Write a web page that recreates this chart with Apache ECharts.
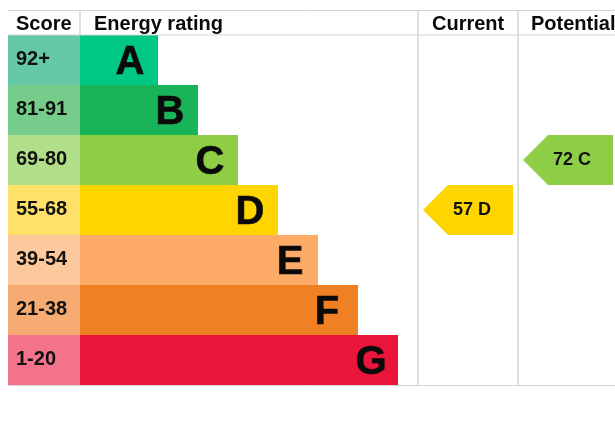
<!DOCTYPE html>
<html><head><meta charset="utf-8">
<style>html,body{margin:0;padding:0;background:#fff}#c{width:615px;height:428px}</style>
<script src="https://cdn.jsdelivr.net/npm/echarts@6/dist/echarts.min.js"></script>
</head><body><div id="c"></div>
<script>
const bands = ['A','B','C','D','E','F','G'];
const scores = ['92+','81-91','69-80','55-68','39-54','21-38','1-20'];
const scoreCell = [72,72,72,72,72,72,72];
const ratingBar = [78,118,158,198,238,278,318];
const bandColors = ['#00c781','#19b459','#8dce46','#ffd500','#fcaa65','#ef8023','#e9153b'];
const scoreColors = ['#66c9a6','#75cc8b','#b1de89','#ffe169','#fdc89c','#f5ab72','#f2738a'];
const headers = ['Score','Energy rating','Current','Potential'];
const currentRating = {value:57, band:'D', col:460};
const potentialRating = {value:72, band:'C', col:560};
const FONT = '"Liberation Sans", Arial, sans-serif';
const arrow = 'path://M0 25 L25 0 L90 0 L90 50 L25 50 Z';
const LINE = '#d4d4d4';
const letterNudge = [0,0,0,0,0,-3,1];

function hline(y,x1,x2){return {type:'line',silent:true,z:50,shape:{x1,y1:y,x2,y2:y},style:{stroke:LINE,lineWidth:1}};}
function vline(x,y1,y2){return {type:'line',silent:true,z:50,shape:{x1:x,y1,x2:x,y2},style:{stroke:LINE,lineWidth:1.5}};}
function head(text,x){return {type:'text',silent:true,z:60,x,y:14,style:{text,fill:'#0a0a0a',font:'bold 20px '+FONT}};}

function arrowSeries(r){
  return {type:'scatter',symbol:arrow,symbolSize:[90,50],z:10,
    itemStyle:{color:bandColors[bands.indexOf(r.band)],opacity:1},
    label:{show:true,position:'inside',offset:[4,0],formatter:r.value+' '+r.band,
      color:'#111',fontFamily:FONT,fontWeight:'bold',fontSize:18},
    data:[[r.col,r.band]]};
}

const chart = echarts.init(document.getElementById('c'),null,{renderer:'canvas'});
chart.setOption({
  animation:false,
  backgroundColor:'#fff',
  grid:{left:8,right:0,top:35,height:350,containLabel:false},
  xAxis:{type:'value',min:0,max:607,show:false},
  yAxis:{type:'category',inverse:true,data:bands,show:false},
  series:[
    {type:'bar',stack:'r',barWidth:'100%',silent:true,
     data:scoreCell.map((v,i)=>({value:v,itemStyle:{color:scoreColors[i]}})),
     label:{show:true,position:'insideLeft',distance:8,offset:[0,-1],
       formatter:p=>scores[p.dataIndex],color:'#111',fontFamily:FONT,fontWeight:'bold',fontSize:20}},
    {type:'bar',stack:'r',barWidth:'100%',silent:true,
     data:ratingBar.map((v,i)=>({value:v,itemStyle:{color:bandColors[i]},
       label:{offset:[letterNudge[i],3]}})),
     label:{show:true,position:'insideRight',distance:28,align:'center',
       formatter:p=>bands[p.dataIndex],color:'#0a0a0a',fontFamily:FONT,fontWeight:'bold',fontSize:40,
       textBorderColor:'#0a0a0a',textBorderWidth:0.6}},
    arrowSeries(currentRating),
    arrowSeries(potentialRating)
  ],
  graphic:[
    hline(10.5,8,615),hline(35,8,615),hline(385.5,8,615),
    vline(80,10,35),vline(418,10,385),vline(518,10,385),
    head(headers[0],16),head(headers[1],94),head(headers[2],432),head(headers[3],531)
  ]
});
</script></body></html>
